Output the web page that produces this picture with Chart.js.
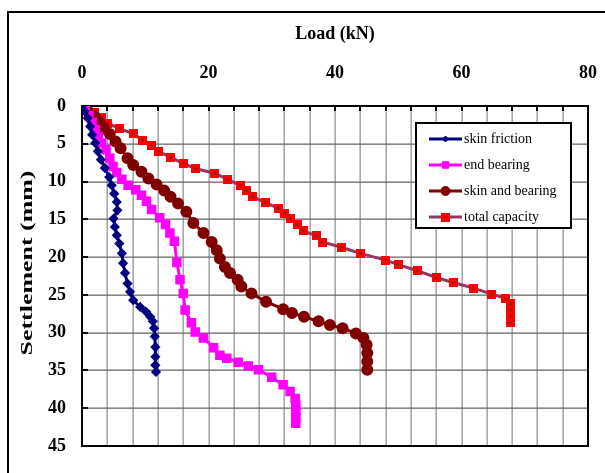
<!DOCTYPE html>
<html>
<head>
<meta charset="utf-8">
<script src="https://cdn.jsdelivr.net/npm/chart.js@4/dist/chart.umd.min.js"></script>
<style>
  html, body { margin: 0; padding: 0; background: #fff; }
  #wrap { width: 605px; height: 473px; }
</style>
</head>
<body>
<div id="wrap"><canvas id="myChart" width="605" height="473"></canvas></div>
<script>
// series data: load (kN) and settlement (mm)
const seriesNames = ['skin friction', 'end bearing', 'skin and bearing', 'total capacity'];
const xTitle = 'Load (kN)';
const yTitle = 'Settlement (mm)';

const skinLoad   = [0, 0.4, 0.9, 1.3, 1.6, 2.1, 2.5, 3.0, 3.6, 4.3, 4.7, 5.1, 5.5, 5.6, 5.0, 5.2, 5.5, 5.9, 6.3, 6.5, 6.8, 7.2, 7.6, 8.1, 9.2, 10.1, 10.8, 11.2, 11.4, 11.5, 11.6, 11.6, 11.6, 11.7];
const skinSettle = [0, 0.7, 1.6, 2.7, 3.8, 4.9, 6.0, 7.1, 8.2, 9.4, 10.5, 11.6, 12.7, 13.8, 14.9, 16.0, 17.1, 18.2, 19.5, 20.8, 22.1, 23.5, 24.6, 25.7, 26.6, 27.2, 27.9, 28.5, 29.4, 30.5, 31.9, 33.2, 34.3, 35.2];

const endLoad   = [0, 0.5, 1.1, 1.6, 2.1, 2.6, 3.1, 3.8, 4.4, 4.9, 5.5, 6.3, 7.3, 8.5, 9.4, 10.2, 11.0, 12.3, 13.2, 13.9, 14.6, 15.0, 15.5, 16.0, 16.3, 17.3, 17.9, 19.2, 20.8, 21.8, 22.9, 24.7, 26.3, 27.9, 30.0, 31.8, 32.9, 33.7, 33.8, 33.8, 33.8, 33.8];
const endSettle = [0, 0.5, 1.3, 2.2, 3.1, 4.1, 4.9, 5.8, 6.9, 8.0, 8.8, 9.7, 10.5, 11.1, 11.8, 12.6, 13.7, 14.8, 15.7, 16.8, 17.9, 20.7, 23.0, 24.8, 27.0, 28.7, 29.9, 30.7, 32.0, 33.0, 33.4, 33.9, 34.4, 34.9, 35.9, 36.9, 37.8, 38.7, 39.6, 40.4, 41.2, 42.0];

const bothLoad   = [0, 0.8, 2.0, 2.8, 3.5, 4.4, 5.3, 6.1, 7.2, 8.1, 9.4, 10.5, 11.8, 13.0, 14.0, 15.2, 16.5, 17.6, 19.2, 20.5, 21.3, 21.8, 22.6, 23.4, 24.6, 25.2, 26.8, 29.1, 31.8, 33.2, 35.1, 37.4, 39.2, 41.2, 43.3, 44.5, 45.0, 45.1, 45.1, 45.1];
const bothSettle = [0, 0.5, 1.4, 2.2, 3.0, 3.7, 4.7, 5.6, 6.9, 7.8, 8.7, 9.6, 10.4, 11.2, 12.0, 12.9, 14.0, 15.5, 16.8, 18.0, 19.1, 20.2, 21.3, 22.1, 23.0, 23.9, 24.8, 25.9, 26.9, 27.4, 27.9, 28.5, 29.0, 29.4, 30.1, 30.7, 31.6, 32.7, 33.8, 34.9];

const totalLoad   = [0, 2.0, 3.1, 4.1, 6.0, 8.1, 9.6, 11.0, 12.1, 14.0, 16.0, 18.0, 21.0, 23.0, 25.0, 26.0, 27.0, 29.0, 31.0, 32.0, 33.0, 34.0, 35.0, 37.0, 38.0, 41.0, 44.0, 48.0, 50.0, 53.0, 56.0, 58.8, 61.9, 64.8, 67.0, 67.8, 67.8, 67.8, 67.8];
const totalSettle = [0, 0.8, 1.5, 2.3, 3.0, 3.7, 4.5, 5.2, 6.0, 6.8, 7.6, 8.3, 8.9, 9.7, 10.5, 11.2, 12.0, 12.8, 13.5, 14.2, 14.9, 15.7, 16.5, 17.2, 18.0, 18.7, 19.5, 20.4, 21.0, 21.8, 22.7, 23.4, 24.1, 24.9, 25.5, 26.2, 27.0, 27.8, 28.7];

const xMin = 0, xMax = 80, xStep = 4, xLabelStep = 20;
const yMin = 0, yMax = 45, yStep = 5;

function toPoints(xs, ys) {
    return xs.map((x, i) => ({ x: x, y: ys[i] }));
}

// red square marker with dark dot, like the excel one
const redMark = document.createElement('canvas');
redMark.width = 9; redMark.height = 9;
(function () {
    const c = redMark.getContext('2d');
    c.fillStyle = '#ff0000';
    c.fillRect(0, 0, 9, 9);
    c.fillStyle = '#3a3a00';
    c.fillRect(3.5, 3.5, 2, 2);
})();

const serif = "'Liberation Serif', 'Times New Roman', serif";

const frame = {
    id: 'frame',
    beforeDraw(chart) {
        const c = chart.ctx;
        c.save();
        c.strokeStyle = '#000';
        c.lineWidth = 2;
        c.strokeRect(8, 12, 700, 600);
        // y title, stretched along its length like the original
        c.translate(28, 263);
        c.rotate(-Math.PI / 2);
        c.font = 'bold 17px ' + serif;
        const w = c.measureText(yTitle).width;
        c.scale(185 / w, 1);
        c.fillStyle = '#000';
        c.textAlign = 'center';
        c.textBaseline = 'middle';
        c.fillText(yTitle, 0, 0);
        c.restore();
    },
    beforeDatasetsDraw(chart) {
        const c = chart.ctx;
        const a = chart.chartArea;
        const sx = chart.scales.x, sy = chart.scales.y;
        c.save();
        // grid, from the scales
        c.fillStyle = '#939393';
        for (let v = xMin; v <= xMax; v += xStep) {
            const px = Math.round(sx.getPixelForValue(v));
            c.fillRect(px - 0.5, a.top, 1.3, a.bottom - a.top);
        }
        c.fillStyle = '#6a6a6a';
        for (let v = yMin; v <= yMax; v += yStep) {
            const py = Math.round(sy.getPixelForValue(v));
            c.fillRect(a.left, py - 0.5, a.right - a.left, 1.3);
        }
        c.strokeStyle = '#000';
        c.lineWidth = 2;
        c.strokeRect(a.left, a.top, a.right - a.left, a.bottom - a.top);
        // inner tick marks
        c.fillStyle = '#000';
        for (let v = xMin; v <= xMax; v += xStep) {
            const px = Math.round(sx.getPixelForValue(v));
            c.fillRect(px - 1, a.top, 2, 5);
        }
        for (let v = yMin; v <= yMax; v += yStep) {
            const py = Math.round(sy.getPixelForValue(v));
            c.fillRect(a.left, py - 1, 6, 2);
        }
        c.restore();
    },
    afterDraw(chart) {
        // legend box inside the plot
        const c = chart.ctx;
        const bx = 416, by = 123, bw = 155, bh = 105;
        c.save();
        c.fillStyle = '#fff';
        c.fillRect(bx, by, bw, bh);
        c.strokeStyle = '#000';
        c.lineWidth = 2;
        c.strokeRect(bx, by, bw, bh);
        chart.data.datasets.forEach((ds, i) => {
            const y = by + 16 + i * 26;
            c.fillStyle = ds.borderColor;
            c.fillRect(429, y - 1.5, 33, 3);
            c.fillStyle = ds.pointBackgroundColor;
            c.strokeStyle = ds.pointBorderColor;
            c.lineWidth = 1;
            Chart.helpers.drawPoint(c, {
                pointStyle: ds.pointStyle,
                radius: ds.pointRadius,
                rotation: 0,
                borderWidth: 1
            }, 445.5, y);
            c.fillStyle = '#000';
            c.font = '14px ' + serif;
            c.textAlign = 'left';
            c.textBaseline = 'middle';
            c.fillText(ds.label, 464, y);
        });
        c.restore();
    }
};

const ctx = document.getElementById('myChart').getContext('2d');
new Chart(ctx, {
    type: 'scatter',
    data: {
        datasets: [{
            label: seriesNames[0],
            data: toPoints(skinLoad, skinSettle),
            showLine: true,
            borderColor: '#000080',
            borderWidth: 3,
            pointStyle: 'rectRot',
            pointRadius: 3,
            pointBackgroundColor: '#000080',
            pointBorderColor: '#000080'
        }, {
            label: seriesNames[1],
            data: toPoints(endLoad, endSettle),
            showLine: true,
            borderColor: '#ff00ff',
            borderWidth: 3,
            pointStyle: 'rect',
            pointRadius: 4.6,
            pointBackgroundColor: '#ff00ff',
            pointBorderColor: '#ff00ff'
        }, {
            label: seriesNames[2],
            data: toPoints(bothLoad, bothSettle),
            showLine: true,
            borderColor: '#800000',
            borderWidth: 3,
            pointStyle: 'circle',
            pointRadius: 4.5,
            pointBackgroundColor: '#800000',
            pointBorderColor: '#800000'
        }, {
            label: seriesNames[3],
            data: toPoints(totalLoad, totalSettle),
            showLine: true,
            borderColor: '#993366',
            borderWidth: 3,
            pointStyle: redMark,
            pointRadius: 4.5,
            pointBackgroundColor: '#ff0000',
            pointBorderColor: '#ff0000'
        }]
    },
    options: {
        responsive: false,
        animation: false,
        devicePixelRatio: 1,
        layout: { padding: { left: 0, top: 0, right: 17, bottom: 27 } },
        plugins: {
            legend: { display: false },
            tooltip: { enabled: false }
        },
        scales: {
            x: {
                type: 'linear',
                position: 'top',
                min: xMin,
                max: xMax,
                afterFit: s => {
                    s.height = 106;
                    s.paddingLeft = 0;
                    s.paddingRight = 0;
                },
                ticks: {
                    stepSize: xLabelStep,
                    maxRotation: 0,
                    padding: 14,
                    color: '#000',
                    font: { family: serif, size: 18, weight: 'bold' }
                },
                grid: { display: false },
                border: { display: false },
                title: {
                    display: true,
                    text: xTitle,
                    color: '#000',
                    font: { family: serif, size: 18, weight: 'bold' },
                    padding: { top: 24, bottom: 0 }
                }
            },
            y: {
                type: 'linear',
                reverse: true,
                min: yMin,
                max: yMax,
                afterFit: s => {
                    s.width = 82;
                    s.paddingTop = 0;
                    s.paddingBottom = 0;
                },
                ticks: {
                    stepSize: yStep,
                    padding: 8,
                    color: '#000',
                    font: { family: serif, size: 18, weight: 'bold' }
                },
                grid: { display: false },
                border: { display: false },
                title: { display: false }
            }
        }
    },
    plugins: [frame]
});
</script>
</body>
</html>
